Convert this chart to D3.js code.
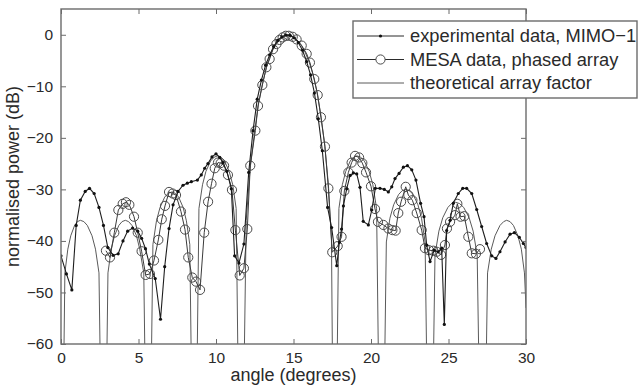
<!DOCTYPE html>
<html><head><meta charset="utf-8">
<script src="https://cdn.jsdelivr.net/npm/d3@7"></script>
<style>html,body{margin:0;padding:0;background:#fff;}svg{display:block;font-family:"Liberation Sans",Arial,sans-serif;}</style>
</head><body><svg id="c" width="638" height="392"></svg>
<script>
// ---- data ----
const xTicks = [0, 5, 10, 15, 20, 25, 30];
const yTicks = [0, -10, -20, -30, -40, -50, -60];
const seriesNames = ["experimental data, MIMO\u22121", "MESA data, phased array", "theoretical array factor"];

const expAngle = [0.0,0.35,0.7,0.98,1.25,1.56,1.84,2.14,2.45,2.74,3.02,3.36,3.69,4.0,4.3,4.62,4.95,5.2,5.45,5.7,6.08,6.42,6.69,6.97,7.23,7.55,7.87,8.15,8.41,8.8,9.05,9.27,9.48,9.74,10.0,10.24,10.45,10.7,10.99,11.2,11.48,11.8,12.11,12.39,12.66,12.93,13.2,13.46,13.72,13.98,14.25,14.52,14.78,15.05,15.31,15.58,15.85,16.1,16.35,16.6,16.86,17.2,17.46,17.79,17.96,18.1,18.22,18.43,18.65,18.86,19.08,19.29,19.5,19.83,20.05,20.28,20.58,20.86,21.12,21.34,21.55,21.81,22.09,22.35,22.63,22.9,23.2,23.42,23.59,23.81,24.08,24.34,24.56,24.73,24.88,25.1,25.31,25.63,25.92,26.17,26.5,26.82,27.14,27.46,27.79,28.06,28.32,28.65,28.97,29.25,29.57,29.83,30.0];
const expPower = [-42.9,-46.4,-49.5,-37,-32.1,-30.4,-29.8,-30.8,-33.5,-37,-41.3,-42.8,-42.5,-40,-38.1,-37.5,-38.1,-39.5,-41.5,-44.5,-47.3,-55.2,-45,-37.6,-33,-30.4,-29.2,-28.8,-28.5,-28.2,-27.2,-25.9,-25,-23.7,-23.1,-23.8,-24.8,-26.5,-29.9,-42.9,-44.3,-40.6,-26.7,-18.6,-12.5,-8.8,-5.9,-3.9,-2.3,-1.1,-0.4,-0.05,-0.1,-0.6,-1.5,-3.0,-5.2,-7.8,-11.3,-16.3,-22.5,-33.5,-37.4,-44.8,-40.3,-37.7,-33.2,-29.9,-27.3,-26.8,-27,-29.6,-36.2,-36.9,-34,-29.8,-29.8,-30,-30.5,-29.5,-27.9,-26.9,-25.7,-25.4,-26.2,-28.2,-32.7,-35.3,-40.8,-44,-41.8,-42.1,-41.4,-56.2,-38,-36,-32.7,-30.8,-29.8,-29.8,-30.8,-33.9,-37.2,-40.5,-42.9,-43.4,-42.1,-40.2,-38.7,-38.4,-39.3,-40.5,-41.3];

const mesaAngle = [2.9,3.16,3.44,3.7,3.98,4.19,4.41,4.71,4.95,5.2,5.46,5.74,6.0,6.28,6.5,6.71,6.97,7.2,7.42,7.74,8.0,8.21,8.47,8.71,8.97,9.24,9.49,9.71,9.92,10.13,10.3,10.52,10.77,11.03,11.25,11.53,11.8,12.02,12.21,12.54,12.71,12.99,13.25,13.46,13.68,13.9,14.1,14.3,14.5,14.7,14.95,15.2,15.53,15.85,16.06,16.34,16.56,16.77,17.03,17.25,17.5,17.85,18.1,18.28,18.54,18.75,18.97,19.23,19.44,19.68,20.0,20.26,20.45,20.8,21.12,21.38,21.59,21.76,21.94,22.24,22.41,22.67,22.95,23.27,23.48,23.74,24.02,24.24,24.52,24.77,24.9,25.1,25.42,25.57,25.78,26.02,26.28,26.5,26.77,27.03];
const mesaPower = [-41.9,-43.2,-38.4,-34,-32.8,-32.5,-33,-35.3,-38.4,-42,-46.6,-46.4,-43.8,-39.8,-35.8,-33.2,-30.5,-30.8,-31.1,-34.3,-37.8,-43.2,-47.1,-47.9,-49.5,-38.4,-32.4,-28.9,-25.9,-24.8,-24.9,-25.4,-27.2,-30.1,-37.9,-46.7,-45.3,-37.7,-25.4,-18.6,-13.8,-9.75,-6.3,-4.7,-2.8,-1.8,-1.0,-0.5,-0.2,-0.2,-0.4,-0.9,-2.1,-3.7,-5.4,-8.6,-11.7,-16,-21.7,-29.8,-42.2,-41,-39.2,-30.3,-26.7,-24.8,-23.5,-23.8,-24.9,-26.7,-29.4,-33.8,-36.3,-36.9,-37.6,-37.9,-38,-34.6,-32.4,-29.5,-31.1,-32.1,-34.6,-37.9,-41.4,-41.8,-41.9,-42.1,-42.7,-40.8,-37.6,-36.3,-35,-32.8,-35.3,-35.2,-39.2,-42.4,-42.5,-41.6];

const theoAngle = [0.0,0.25,0.44,0.63,0.875,1.06,1.25,1.475,1.7,2.0,2.225,2.45,2.75,3.03,3.24,3.45,3.73,3.94,4.15,4.36,4.58,4.87,5.08,5.34,5.63,5.93,6.16,6.39,6.69,6.92,7.15,7.37,7.59,7.88,8.09,8.31,8.6,8.9,9.13,9.35,9.65,9.88,10.1,10.33,10.55,10.85,11.08,11.3,11.6,11.95,12.2,12.5,12.75,13.0,13.25,13.5,13.75,14.0,14.3,14.6,14.9,15.2,15.5,15.75,16.0,16.25,16.5,16.75,17.0,17.25,17.45,17.64,17.93,18.15,18.37,18.66,18.88,19.1,19.34,19.57,19.88,20.12,20.36,20.67,20.99,21.22,21.46,21.78,22.01,22.25,22.48,22.72,23.03,23.26,23.49,23.8,24.13,24.38,24.63,24.96,25.2,25.45,25.71,25.98,26.33,26.59,26.85,27.2,27.52,27.76,28.0,28.32,28.56,28.75,28.97,29.19,29.48,29.7,29.9,30.0];
const theoPower = [-110,-46.2,-41.6,-39,-37,-36.25,-36,-36.25,-37,-39,-41.6,-46.2,-110,-46.2,-41.6,-39,-37,-36.25,-36,-36.25,-37,-39,-41.6,-46.2,-110,-40.7,-36.1,-33.5,-31.5,-30.75,-30.5,-30.75,-31.5,-33.5,-36.1,-40.7,-110,-33.7,-29.1,-26.5,-24.5,-23.75,-23.5,-23.75,-24.5,-26.5,-29.1,-33.7,-110,-36,-26,-18.5,-13.3,-9.5,-6.4,-4.0,-2.3,-1.1,-0.3,0,-0.25,-0.9,-2.0,-3.4,-5.2,-7.6,-10.9,-15.3,-21,-29,-40,-110,-33.7,-29.1,-26.5,-24.5,-23.75,-23.5,-23.75,-24.5,-26.5,-29.1,-33.7,-110,-40.2,-35.6,-33,-31,-30.25,-30,-30.25,-31,-33,-35.6,-40.2,-110,-42.7,-38.1,-35.5,-33.5,-32.75,-32.5,-32.75,-33.5,-35.5,-38.1,-42.7,-110,-46.2,-41.6,-39,-37,-36.25,-36,-36.25,-37,-39,-41.6,-46.2,-53];

// ---- layout ----
const svg = d3.select("#c");
const L = 61, R = 526, T = 9, B = 344;
const x = d3.scaleLinear().domain([0, 30]).range([L, R]);
const y = d3.scaleLinear().domain([-60, 5]).range([B, T]);
const frame = "#6b6b6b";

svg.append("defs").append("clipPath").attr("id", "clip")
  .append("rect").attr("x", L).attr("y", T).attr("width", R - L).attr("height", B - T);

const zip = (a, b) => a.map((v, i) => [v, b[i]]);
const line = d3.line().x(d => x(d[0])).y(d => y(d[1]));
const plot = svg.append("g").attr("clip-path", "url(#clip)");

// theoretical
plot.append("path").datum(zip(theoAngle, theoPower)).attr("d", line)
  .attr("fill", "none").attr("stroke", "#5a5a5a").attr("stroke-width", 1);
// MESA
const mesa = zip(mesaAngle, mesaPower);
plot.append("path").datum(mesa).attr("d", line)
  .attr("fill", "none").attr("stroke", "#3a3a3a").attr("stroke-width", 1);
plot.selectAll("circle.m").data(mesa).enter().append("circle").attr("class", "m")
  .attr("cx", d => x(d[0])).attr("cy", d => y(d[1])).attr("r", 4.6)
  .attr("fill", "none").attr("stroke", "#4a4a4a").attr("stroke-width", 1);
// experimental
const exp = zip(expAngle, expPower);
plot.append("path").datum(exp).attr("d", line)
  .attr("fill", "none").attr("stroke", "#1e1e1e").attr("stroke-width", 1.1);
plot.selectAll("circle.e").data(exp).enter().append("circle").attr("class", "e")
  .attr("cx", d => x(d[0])).attr("cy", d => y(d[1])).attr("r", 1.6)
  .attr("fill", "#111");

// axes (MATLAB box, inward ticks)
const tl = 5;
const ax = svg.append("g");
ax.append("g").attr("transform", `translate(0,${B})`)
  .call(d3.axisBottom(x).tickValues(xTicks).tickSize(-tl).tickPadding(8).tickFormat(d3.format("d")));
ax.append("g").attr("transform", `translate(0,${T})`)
  .call(d3.axisTop(x).tickValues(xTicks).tickSize(-tl).tickFormat(""));
ax.append("g").attr("transform", `translate(${L},0)`)
  .call(d3.axisLeft(y).tickValues(yTicks).tickSize(-tl).tickPadding(8).tickFormat(d => d < 0 ? "\u2212" + Math.abs(d) : d));
ax.append("g").attr("transform", `translate(${R},0)`)
  .call(d3.axisRight(y).tickValues(yTicks).tickSize(-tl).tickFormat(""));
ax.selectAll(".domain").remove();
ax.selectAll(".tick line").attr("stroke", frame).attr("stroke-width", 1);
ax.selectAll(".tick text").attr("fill", "#2a2a2a").style("font-size", "15.5px")
  .style("font-family", "'Liberation Sans', Arial, sans-serif");
svg.append("rect").attr("x", L).attr("y", T).attr("width", R - L).attr("height", B - T)
  .attr("fill", "none").attr("stroke", frame).attr("stroke-width", 1.4);

// axis titles
svg.append("text").attr("x", (L + R) / 2).attr("y", 381).attr("text-anchor", "middle")
  .attr("fill", "#2a2a2a").style("font-size", "18px").text("angle (degrees)");
svg.append("text").attr("transform", `translate(19,${(T + B) / 2}) rotate(-90)`)
  .attr("text-anchor", "middle").attr("fill", "#2a2a2a").style("font-size", "18px")
  .text("normalised power (dB)");

// legend
const lg = svg.append("g");
lg.append("rect").attr("x", 353).attr("y", 21).attr("width", 284).attr("height", 77)
  .attr("fill", "#fff").attr("stroke", frame).attr("stroke-width", 1.4);
const rows = [36, 59.5, 83];
rows.forEach((ry, i) => {
  lg.append("line").attr("x1", 357).attr("x2", 404).attr("y1", ry).attr("y2", ry)
    .attr("stroke", i === 2 ? "#5a5a5a" : "#2a2a2a").attr("stroke-width", 1);
  if (i === 0) lg.append("circle").attr("cx", 380.5).attr("cy", ry).attr("r", 1.6).attr("fill", "#111");
  if (i === 1) lg.append("circle").attr("cx", 380.5).attr("cy", ry).attr("r", 4.6)
    .attr("fill", "#fff").attr("stroke", "#4a4a4a");
  lg.append("text").attr("x", 410).attr("y", ry).attr("dy", "0.35em").attr("fill", "#2a2a2a")
    .style("font-size", "18.3px").text(seriesNames[i]);
});
</script></body></html>
